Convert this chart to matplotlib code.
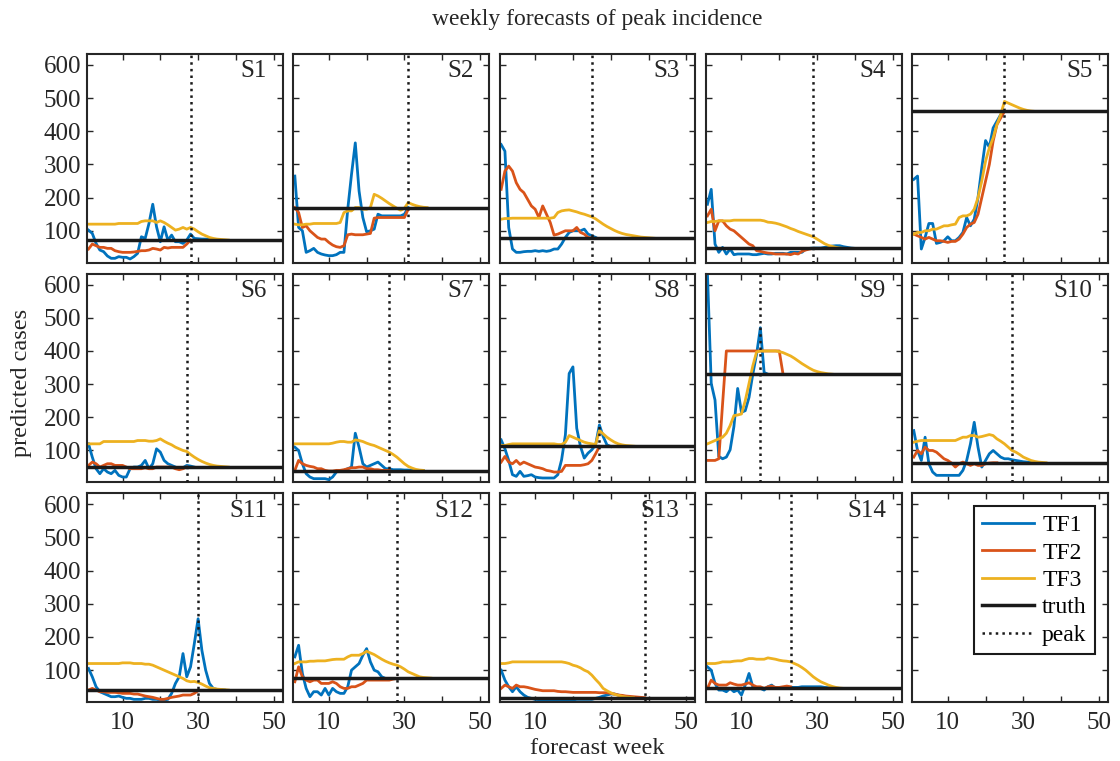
import numpy as np
import matplotlib.pyplot as plt
from matplotlib.lines import Line2D

plt.rcParams['font.family'] = ['Liberation Serif', 'DejaVu Serif']

# series data, one value per forecast week starting at week 1
panel_names = ['S1', 'S2', 'S3', 'S4', 'S5', 'S6', 'S7', 'S8', 'S9', 'S10', 'S11', 'S12', 'S13', 'S14']
truth = [72, 170, 77, 47, 460, 50, 39, 112, 330, 63, 40, 76, 17, 45]
peak_week = [28, 31, 25, 29, 25, 27, 26, 27, 15, 27, 30, 28, 39, 23]

tf1_s1 = [102, 92, 62, 42, 37, 24, 17, 17, 22, 20, 20, 15, 22, 32, 82, 77, 122, 180, 112, 67, 112, 72, 87, 67, 67, 62, 72, 90, 77, 76, 75, 75, 74, 73, 72]
tf2_s1 = [45, 60, 55, 50, 50, 47, 47, 40, 37, 35, 35, 35, 36, 38, 40, 40, 42, 47, 45, 42, 50, 48, 50, 50, 50, 50, 60, 72]
tf3_s1 = [120, 120, 120, 120, 120, 120, 120, 120, 122, 122, 122, 122, 122, 122, 128, 130, 130, 130, 125, 130, 125, 118, 110, 102, 105, 110, 105, 110, 105, 97, 90, 85, 80, 77, 75, 74, 73, 72]

tf1_s2 = [265, 110, 100, 35, 40, 47, 35, 30, 27, 25, 25, 28, 35, 35, 165, 270, 365, 220, 140, 97, 100, 105, 150, 145, 145, 145, 145, 145, 145, 150, 170]
tf2_s2 = [170, 155, 110, 115, 100, 90, 80, 75, 75, 65, 57, 52, 50, 55, 88, 90, 88, 88, 88, 90, 92, 138, 140, 140, 140, 140, 140, 140, 140, 140, 165]
tf3_s2 = [120, 118, 118, 120, 120, 122, 122, 122, 122, 122, 122, 122, 125, 155, 160, 160, 170, 170, 165, 165, 170, 210, 205, 198, 190, 182, 175, 168, 162, 168, 185, 180, 176, 173, 171, 170]

tf1_s3 = [360, 340, 110, 45, 35, 35, 37, 38, 38, 40, 38, 40, 38, 40, 45, 45, 60, 80, 95, 100, 100, 100, 105, 90, 85, 80]
tf2_s3 = [225, 280, 295, 280, 245, 225, 215, 195, 175, 165, 140, 175, 150, 125, 87, 90, 95, 100, 100, 100, 110, 95, 90, 80, 78]
tf3_s3 = [135, 137, 137, 138, 138, 138, 138, 138, 138, 138, 138, 138, 138, 138, 140, 155, 160, 162, 163, 160, 157, 153, 150, 146, 142, 136, 128, 120, 113, 107, 101, 96, 92, 89, 87, 85, 83, 81, 80, 79, 78, 77]

tf1_s4 = [180, 225, 60, 35, 50, 30, 45, 28, 30, 30, 30, 30, 28, 28, 30, 32, 30, 30, 32, 32, 32, 30, 35, 35, 35, 35, 45, 47, 48, 48, 48, 50, 52, 54, 55, 55, 52, 50, 48, 47]
tf2_s4 = [145, 165, 100, 130, 130, 115, 105, 100, 90, 80, 70, 60, 55, 40, 38, 35, 33, 32, 30, 30, 30, 30, 28, 32, 30, 38, 42, 45, 47]
tf3_s4 = [125, 128, 128, 130, 130, 130, 130, 132, 132, 132, 132, 132, 132, 132, 132, 130, 126, 125, 123, 120, 116, 112, 107, 103, 98, 94, 90, 86, 82, 75, 68, 61, 56, 53, 50, 48, 47]

tf1_s5 = [255, 265, 45, 80, 122, 122, 62, 65, 70, 82, 70, 70, 80, 95, 140, 115, 135, 200, 290, 372, 352, 410, 430, 450, 460]
tf2_s5 = [90, 85, 80, 75, 80, 75, 70, 70, 68, 65, 68, 68, 75, 90, 110, 120, 125, 150, 200, 250, 300, 370, 420, 440, 460]
tf3_s5 = [90, 95, 95, 100, 100, 105, 105, 110, 115, 115, 118, 120, 140, 145, 145, 150, 165, 200, 250, 310, 350, 380, 420, 450, 490, 485, 480, 475, 470, 466, 463, 461, 460]

tf1_s6 = [120, 80, 45, 30, 45, 35, 30, 40, 25, 20, 20, 45, 50, 50, 55, 70, 45, 60, 105, 95, 70, 60, 55, 50, 45, 48, 55, 53, 50]
tf2_s6 = [55, 65, 60, 50, 55, 60, 60, 55, 55, 55, 50, 45, 45, 45, 45, 48, 45, 45, 50, 50, 50, 50, 50, 45, 42, 45, 50]
tf3_s6 = [120, 120, 120, 120, 127, 127, 127, 127, 127, 127, 127, 127, 127, 130, 130, 130, 128, 128, 130, 135, 128, 122, 117, 110, 105, 100, 97, 88, 80, 73, 67, 62, 58, 55, 53, 52, 51, 50]

tf1_s7 = [110, 100, 60, 30, 20, 15, 15, 15, 15, 12, 20, 35, 40, 40, 45, 50, 152, 110, 60, 50, 55, 60, 65, 55, 45, 45, 42, 42, 42, 41, 41, 40, 40, 40, 39]
tf2_s7 = [40, 70, 60, 55, 52, 50, 45, 45, 40, 38, 38, 40, 40, 42, 45, 48, 48, 50, 50, 45, 45, 42, 42, 40, 40, 40]
tf3_s7 = [120, 120, 120, 120, 120, 120, 120, 120, 120, 120, 122, 125, 127, 127, 125, 125, 132, 130, 127, 122, 118, 115, 110, 105, 100, 95, 88, 80, 70, 60, 52, 47, 43, 41, 40]

tf1_s8 = [132, 105, 70, 27, 22, 37, 22, 24, 27, 20, 18, 17, 17, 17, 17, 27, 72, 147, 332, 352, 167, 112, 77, 92, 102, 117, 177, 142, 117, 112]
tf2_s8 = [65, 82, 65, 60, 70, 58, 65, 60, 55, 50, 48, 45, 40, 38, 35, 35, 37, 55, 55, 55, 55, 55, 57, 60, 70, 90, 112]
tf3_s8 = [115, 115, 118, 120, 120, 120, 120, 120, 120, 120, 120, 120, 120, 120, 120, 118, 118, 125, 145, 140, 135, 130, 125, 122, 120, 118, 160, 150, 140, 132, 125, 120, 117, 115, 114, 113, 112]

tf1_s9 = [633, 302, 252, 82, 75, 80, 102, 172, 287, 215, 220, 260, 330, 390, 470, 335, 330]
tf2_s9 = [70, 70, 70, 75, 240, 400, 400, 400, 400, 400, 400, 400, 400, 400, 400, 400, 400, 400, 400, 400, 330]
tf3_s9 = [120, 125, 130, 135, 140, 152, 175, 205, 207, 210, 250, 302, 355, 397, 400, 400, 400, 400, 400, 398, 395, 390, 385, 378, 370, 362, 355, 348, 342, 338, 335, 333, 331, 330]

tf1_s10 = [160, 100, 70, 140, 60, 35, 25, 25, 25, 25, 25, 25, 25, 40, 70, 120, 185, 110, 50, 70, 90, 100, 90, 80, 75, 75, 72, 70, 68, 66, 65, 64, 63]
tf2_s10 = [80, 100, 90, 110, 100, 100, 95, 85, 75, 70, 62, 50, 60, 65, 60, 55, 60, 55, 55, 60, 62, 63, 63]
tf3_s10 = [125, 128, 130, 130, 130, 130, 130, 130, 130, 130, 130, 130, 135, 140, 140, 145, 145, 140, 142, 145, 148, 145, 135, 128, 120, 110, 100, 95, 88, 80, 75, 70, 67, 65, 64, 63]

tf1_s11 = [105, 80, 50, 35, 30, 25, 20, 20, 22, 18, 15, 15, 12, 12, 12, 15, 15, 12, 12, 10, 10, 12, 30, 60, 80, 150, 80, 110, 180, 255, 160, 100, 60, 45, 42, 41, 40]
tf2_s11 = [40, 45, 40, 35, 35, 33, 33, 33, 32, 30, 30, 30, 28, 28, 25, 22, 20, 18, 15, 12, 12, 15, 18, 20, 22, 25, 25, 25, 30, 38]
tf3_s11 = [120, 120, 120, 120, 120, 120, 120, 120, 120, 122, 122, 122, 120, 120, 120, 118, 118, 115, 110, 105, 100, 95, 90, 85, 80, 75, 68, 65, 66, 63, 58, 52, 47, 45, 43, 42, 41, 40]

tf1_s12 = [140, 175, 90, 45, 20, 35, 35, 25, 45, 25, 45, 35, 30, 30, 50, 100, 110, 120, 145, 165, 125, 100, 95, 80, 75]
tf2_s12 = [65, 110, 80, 70, 65, 70, 70, 60, 60, 60, 65, 60, 50, 45, 45, 50, 50, 55, 60, 70, 70, 70, 70, 70, 70, 70, 73, 75]
tf3_s12 = [120, 125, 125, 125, 127, 127, 128, 128, 128, 130, 132, 133, 133, 133, 140, 145, 145, 145, 150, 157, 152, 147, 140, 133, 127, 122, 118, 115, 110, 103, 95, 90, 85, 80, 78, 77, 76]

tf1_s13 = [100, 70, 50, 35, 50, 35, 25, 18, 15, 12, 11, 10, 10, 10, 10, 10, 10, 10, 10, 10, 12, 12, 12, 12, 12, 15, 18, 22, 25, 28, 28, 25, 22, 20, 18, 17]
tf2_s13 = [45, 55, 50, 45, 55, 50, 50, 48, 45, 42, 40, 38, 38, 38, 38, 36, 35, 35, 34, 33, 33, 33, 33, 33, 33, 33, 32, 32, 32, 30, 28, 25, 24, 22, 21, 20, 19, 18, 17]
tf3_s13 = [120, 120, 122, 125, 125, 125, 125, 125, 125, 125, 125, 125, 125, 125, 125, 125, 125, 123, 120, 115, 112, 107, 100, 95, 85, 72, 60, 45, 38, 32, 27, 24, 21, 19, 18, 17]

tf1_s14 = [110, 100, 60, 40, 40, 35, 45, 35, 40, 25, 55, 90, 50, 45, 45, 40, 50, 55, 45, 45, 45, 45, 48, 48, 48, 50, 50, 50, 50, 50, 50, 48, 47, 46, 45]
tf2_s14 = [45, 70, 60, 55, 55, 55, 62, 58, 55, 55, 58, 62, 55, 50, 50, 45, 50, 52, 48, 48, 50, 52, 50]
tf3_s14 = [120, 120, 120, 122, 125, 125, 125, 127, 128, 128, 132, 135, 135, 133, 133, 133, 137, 135, 133, 130, 128, 127, 125, 120, 115, 108, 100, 90, 80, 72, 65, 60, 55, 51, 48, 46, 45]

tf1_all = [tf1_s1, tf1_s2, tf1_s3, tf1_s4, tf1_s5, tf1_s6, tf1_s7, tf1_s8, tf1_s9, tf1_s10, tf1_s11, tf1_s12, tf1_s13, tf1_s14]
tf2_all = [tf2_s1, tf2_s2, tf2_s3, tf2_s4, tf2_s5, tf2_s6, tf2_s7, tf2_s8, tf2_s9, tf2_s10, tf2_s11, tf2_s12, tf2_s13, tf2_s14]
tf3_all = [tf3_s1, tf3_s2, tf3_s3, tf3_s4, tf3_s5, tf3_s6, tf3_s7, tf3_s8, tf3_s9, tf3_s10, tf3_s11, tf3_s12, tf3_s13, tf3_s14]

n_weeks = 52
weeks = np.arange(1, n_weeks + 1)

c1 = '#0072BD'
c2 = '#D95319'
c3 = '#EDB120'
frame_col = '#262626'


def pad(vals):
    out = np.full(n_weeks, np.nan)
    out[:len(vals)] = vals
    return out


fig, axes = plt.subplots(3, 5, figsize=(11.2, 7.61), dpi=100)
fig.subplots_adjust(left=87 / 1120, right=1108 / 1120, top=1 - 54 / 761,
                    bottom=1 - 702 / 761, wspace=0.054, hspace=0.053)

for i, ax in enumerate(axes.flat):
    row, col = divmod(i, 5)
    if i < 14:
        ax.plot(weeks, pad(tf1_all[i]), color=c1, lw=2.0)
        ax.plot(weeks, pad(tf2_all[i]), color=c2, lw=2.0)
        ax.plot(weeks, pad(tf3_all[i]), color=c3, lw=2.0)
        ax.axhline(truth[i], color='#1a1a1a', lw=2.5, zorder=4)
        ax.axvline(peak_week[i], color='#1a1a1a', lw=1.8, ls=':', zorder=5)
        ax.text(0.92, 0.97, panel_names[i], transform=ax.transAxes,
                ha='right', va='top', fontsize=18, color=frame_col)
    ax.set_xlim(0.6, 52.4)
    ax.set_ylim(4, 633)
    ax.set_xticks([10, 20, 30, 40, 50])
    ax.set_xticklabels(['10', '', '30', '', '50'])
    ax.set_yticks([100, 200, 300, 400, 500, 600])
    ax.tick_params(direction='in', top=True, right=True, length=4, width=1.0,
                   labelsize=18, colors=frame_col)
    ax.tick_params(axis='x', pad=7)
    ax.tick_params(axis='y', pad=4)
    for s in ax.spines.values():
        s.set_linewidth(1.5)
        s.set_color(frame_col)
    if col != 0:
        ax.set_yticklabels([])
    if row != 2:
        ax.set_xticklabels([])

# legend in the empty last panel
handles = [Line2D([], [], color=c1, lw=2.0),
           Line2D([], [], color=c2, lw=2.0),
           Line2D([], [], color=c3, lw=2.0),
           Line2D([], [], color='#1a1a1a', lw=2.5),
           Line2D([], [], color='#1a1a1a', lw=1.8, ls=':')]
leg = axes[2, 4].legend(handles, ['TF1', 'TF2', 'TF3', 'truth', 'peak'],
                        loc='upper right', fontsize=17, frameon=True, fancybox=False,
                        edgecolor='#1a1a1a', framealpha=1, labelspacing=0.25,
                        handlelength=2.2, handletextpad=0.35, borderpad=0.35,
                        borderaxespad=0.55)
leg.get_frame().set_linewidth(1.5)

fig.text(597 / 1120, 1 - 20 / 761, 'weekly forecasts of peak incidence',
         ha='center', va='center', fontsize=17, color=frame_col)
fig.text(597 / 1120, 1 - 748 / 761, 'forecast week',
         ha='center', va='center', fontsize=17.5, color=frame_col)
fig.text(22 / 1120, 1 - 383 / 761, 'predicted cases', rotation=90,
         ha='center', va='center', fontsize=17.5, color=frame_col)

fig.savefig('out.png', dpi=100)
